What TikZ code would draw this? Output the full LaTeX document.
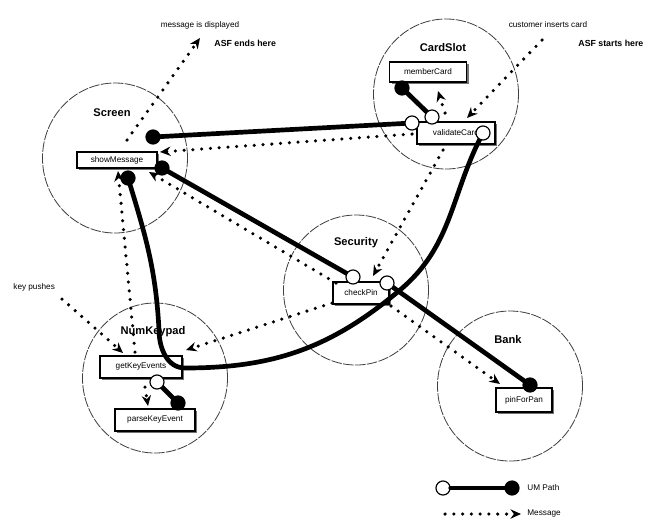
\documentclass[tikz,border=0pt]{standalone}
\usepackage{fontspec}
\setmainfont{Liberation Sans}
\usetikzlibrary{shapes.geometric,arrows.meta,shadows}

\begin{document}
\begin{tikzpicture}[x=0.03cm, y=-0.03cm,
    comp/.style={ellipse, draw=black!75, line width=0.7pt, dash pattern=on 9pt off 1.2pt,
        minimum width=4.35cm, minimum height=4.5cm, inner sep=0pt},
    title/.style={font=\fontsize{9.5}{11}\selectfont\bfseries},
    resp/.style={draw, line width=0.9pt, fill=white, inner sep=1pt, minimum height=0.66cm,
        font=\fontsize{7}{8}\selectfont,
        drop shadow={shadow xshift=2pt, shadow yshift=-2pt, fill=black!55, opacity=1}},
    note/.style={font=\fontsize{7}{8}\selectfont, inner sep=1pt},
    asf/.style={font=\fontsize{7.5}{9}\selectfont\bfseries, inner sep=1pt, anchor=west},
    ucm/.style={line width=4pt, line cap=round},
    msg/.style={line width=3pt, line cap=round, dash pattern=on 0pt off 7.5pt,
        -{Stealth[length=9pt,width=8pt]}},
    startpt/.style={circle, draw, fill=white, line width=1pt, minimum size=12pt, inner sep=0pt},
    endpt/.style={circle, fill=black, minimum size=13pt, inner sep=0pt}]

\useasboundingbox (0,0) rectangle (657,523);

% components
\node[comp] (screen) at (115,158) {};
\node[comp] (cardSlot) at (446,94) {};
\node[comp] (security) at (356,290) {};
\node[comp] (numKeypad) at (155,378) {};
\node[comp] (bank) at (510,386) {};

\node[title] (screenT) at (112,113) {Screen};
\node[title] (cardSlotT) at (443,48) {CardSlot};
\node[title] (securityT) at (356,243) {Security};
\node[title] (numKeypadT) at (153,332) {NumKeypad};
\node[title] (bankT) at (508,340) {Bank};

% responsibilities
\node[resp, minimum width=2.4cm, minimum height=0.48cm] (showMsg) at (117,160) {showMessage};
\node[resp, minimum width=2.31cm, minimum height=0.6cm] (memberCard) at (428,72) {memberCard};
\node[resp, minimum width=2.34cm] (validateCard) at (456,133) {validateCard};
\node[resp, minimum width=1.68cm] (checkPin) at (361,293) {checkPin};
\node[resp, minimum width=2.46cm] (getKey) at (141,367) {getKeyEvents};
\node[resp, minimum width=2.4cm] (parseKey) at (155,420) {parseKeyEvent};
\node[resp, minimum width=1.68cm, minimum height=0.72cm] (pinForPan) at (524,400) {pinForPan};

% annotations
\node[note] (msgNote) at (200,25) {message is displayed};
\node[asf] (asfEnd) at (213,43) {ASF ends here};
\node[note] (cardNote) at (548,25) {customer inserts card};
\node[asf] (asfStart) at (577,43) {ASF starts here};
\node[note, anchor=west] (keyNote) at (12,287) {key pushes};

% path ends
\coordinate (vcL) at (412,123);
\coordinate (vcT) at (432,117);
\coordinate (vcR) at (483,133);
\coordinate (mcE) at (402,88);
\coordinate (smT) at (153,137);
\coordinate (smR) at (162,168);
\coordinate (smB) at (128,178);
\coordinate (cpL) at (353,277);
\coordinate (cpR) at (387,283);
\coordinate (bkE) at (530,385);
\coordinate (gkS) at (157,382);
\coordinate (pkE) at (178,403);
\coordinate (bendA) at (400,290);
\coordinate (bendB) at (185,368);
\coordinate (bendC) at (159,330);

% message ends
\coordinate (cardIn) at (542,40);
\coordinate (msgOut) at (200,38);
\coordinate (keyIn) at (62,299);
\coordinate (vcIn) at (467,118);
\coordinate (vcUp) at (445,113);
\coordinate (mcIn) at (438,91);
\coordinate (vcOut) at (412,134);
\coordinate (smIn) at (160,152);
\coordinate (vcDown) at (443,150);
\coordinate (cpIn) at (373,276);
\coordinate (cpOut) at (391,306);
\coordinate (bkIn) at (500,384);
\coordinate (cpBack) at (336,283);
\coordinate (smInB) at (149,172);
\coordinate (cpKey) at (332,303);
\coordinate (gkIn) at (186,350);
\coordinate (gkUp) at (135,352);
\coordinate (smInC) at (118,171);
\coordinate (gkDown) at (145,387);
\coordinate (pkIn) at (148,406);
\coordinate (smOut) at (127,140);
\coordinate (gkInB) at (123,353);

% messages
\draw[msg] (cardIn) -- (vcIn);
\draw[msg] (vcUp) -- (mcIn);
\draw[msg] (vcOut) -- (smIn);
\draw[msg] (vcDown) -- (cpIn);
\draw[msg] (cpOut) -- (bkIn);
\draw[msg] (cpBack) -- (smInB);
\draw[msg] (cpKey) -- (gkIn);
\draw[msg] (gkUp) -- (smInC);
\draw[msg] (gkDown) -- (pkIn);
\draw[msg] (smOut) -- (msgOut);
\draw[msg] (keyIn) -- (gkInB);

% UCM paths
\draw[ucm] (vcL) -- (smT);
\draw[ucm] (vcT) -- (mcE);
\draw[ucm] (cpL) -- (smR);
\draw[ucm] (cpR) -- (bkE);
\draw[ucm] (gkS) -- (pkE);
\draw[ucm] (vcR) to[out=-118,in=40] (bendA) to[out=-140,in=0] (bendB)
    to[out=180,in=-90] (bendC) to[out=93,in=-73] (smB);

\foreach \p in {vcL,vcT,vcR,cpL,cpR,gkS}
    \node[startpt] at (\p) {};
\foreach \p in {mcE,smT,smR,smB,bkE,pkE}
    \node[endpt] at (\p) {};

% legend
\node[startpt] (lgStart) at (443,488) {};
\node[endpt] (lgEnd) at (512,488) {};
\draw[ucm] (lgStart) -- (lgEnd);
\node[note, anchor=west] (lgPath) at (526,488) {UM Path};
\coordinate (lgMsgA) at (445,514);
\coordinate (lgMsgB) at (521,514);
\draw[msg] (lgMsgA) -- (lgMsgB);
\node[note, anchor=west] (lgMsg) at (526,514) {Message};
\end{tikzpicture}
\end{document}
